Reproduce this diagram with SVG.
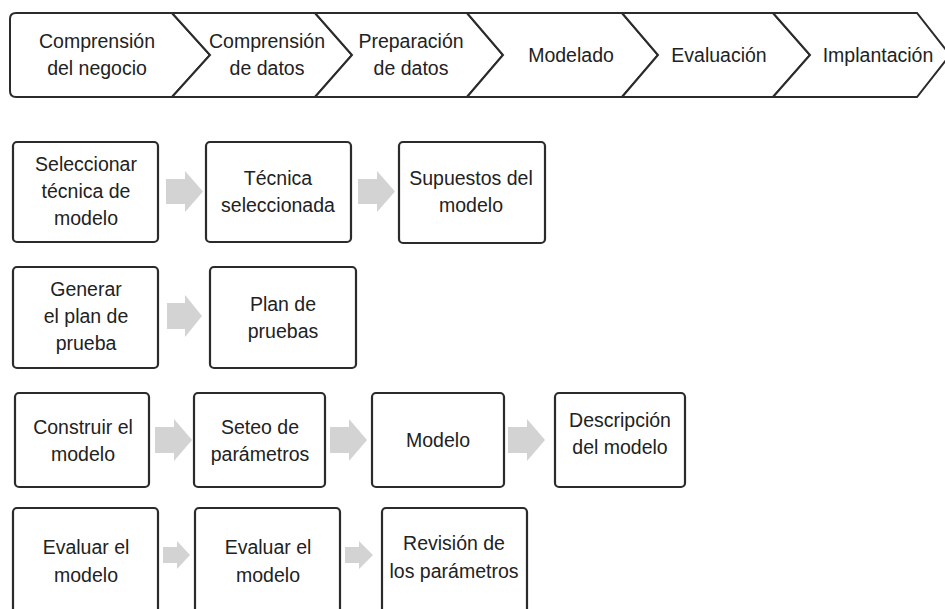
<svg xmlns="http://www.w3.org/2000/svg" width="945" height="609" viewBox="0 0 945 609">
<style>
.ph{fill:#fff;stroke:#2b2b2b;stroke-width:2;stroke-linejoin:miter}
.bx{fill:#fff;stroke:#2b2b2b;stroke-width:2.2}
.t{font-family:"Liberation Sans",Arial,sans-serif;font-size:19.5px;fill:#222;text-anchor:middle}
.ar{fill:#d3d3d3}
</style>
<rect width="945" height="609" fill="#fff"/>
<g id="banner">
<g id="phase1"><path class="ph" d="M172,13 L16,13 Q10,13 10,19 L10,91 Q10,97 16,97 L172,97 L210,55 Z"/><text class="t" x="97" y="48">Comprensión</text><text class="t" x="97" y="75">del negocio</text></g>
<g id="phase2"><path class="ph" d="M172,13 L315,13 L352,55 L315,97 L172,97 L210,55 Z"/><text class="t" x="267" y="48">Comprensión</text><text class="t" x="267" y="75">de datos</text></g>
<g id="phase3"><path class="ph" d="M315,13 L467,13 L503,55 L467,97 L315,97 L352,55 Z"/><text class="t" x="411" y="48">Preparación</text><text class="t" x="411" y="75">de datos</text></g>
<g id="phase4"><path class="ph" d="M467,13 L622,13 L658,55 L622,97 L467,97 L503,55 Z"/><text class="t" x="571" y="62">Modelado</text></g>
<g id="phase5"><path class="ph" d="M622,13 L773,13 L810,55 L773,97 L622,97 L658,55 Z"/><text class="t" x="719" y="62">Evaluación</text></g>
<g id="phase6"><path class="ph" d="M773,13 L917,13 L950,55 L917,97 L773,97 L810,55 Z"/><text class="t" x="878" y="62">Implantación</text></g>
</g>
<g id="connectors">
<path class="ar" d="M166,179 L185,179 L185,171 L203,191.5 L185,212 L185,204 L166,204 Z"/>
<path class="ar" d="M358,179 L377,179 L377,171 L395,191.5 L377,212 L377,204 L358,204 Z"/>
<path class="ar" d="M167,303 L185,303 L185,295 L202,316 L185,337 L185,329 L167,329 Z"/>
<path class="ar" d="M155,427 L174,427 L174,419 L192,440 L174,461 L174,453 L155,453 Z"/>
<path class="ar" d="M330,427 L349,427 L349,419 L367,440 L349,461 L349,453 L330,453 Z"/>
<path class="ar" d="M508,427 L527,427 L527,419 L545,440 L527,461 L527,453 L508,453 Z"/>
<path class="ar" d="M163,547 L177,547 L177,541 L190,555 L177,569 L177,563 L163,563 Z"/>
<path class="ar" d="M345,547 L359,547 L359,541 L373,555 L359,569 L359,563 L345,563 Z"/>
</g>
<g id="n1"><rect class="bx" x="13" y="142" width="145" height="100" rx="4"/><text class="t" x="86" y="171">Seleccionar</text><text class="t" x="86" y="198">técnica de</text><text class="t" x="86" y="225">modelo</text></g>
<g id="n2"><rect class="bx" x="206" y="142" width="145" height="100" rx="4"/><text class="t" x="278" y="185">Técnica</text><text class="t" x="278" y="212">seleccionada</text></g>
<g id="n3"><rect class="bx" x="399" y="142" width="146" height="101" rx="4"/><text class="t" x="471" y="185">Supuestos del</text><text class="t" x="471" y="212">modelo</text></g>
<g id="n4"><rect class="bx" x="13" y="267" width="145" height="101" rx="4"/><text class="t" x="86" y="296">Generar</text><text class="t" x="86" y="323">el plan de</text><text class="t" x="86" y="350">prueba</text></g>
<g id="n5"><rect class="bx" x="210" y="267" width="146" height="101" rx="4"/><text class="t" x="283" y="311">Plan de</text><text class="t" x="283" y="338">pruebas</text></g>
<g id="n6"><rect class="bx" x="15" y="393" width="134" height="94" rx="4"/><text class="t" x="83" y="434">Construir el</text><text class="t" x="83" y="461">modelo</text></g>
<g id="n7"><rect class="bx" x="194" y="393" width="131" height="94" rx="4"/><text class="t" x="260" y="434">Seteo de</text><text class="t" x="260" y="461">parámetros</text></g>
<g id="n8"><rect class="bx" x="372" y="393" width="132" height="94" rx="4"/><text class="t" x="438" y="447">Modelo</text></g>
<g id="n9"><rect class="bx" x="555" y="393" width="130" height="94" rx="4"/><text class="t" x="620" y="427">Descripción</text><text class="t" x="620" y="454">del modelo</text></g>
<g id="n10"><rect class="bx" x="13" y="508" width="145" height="106" rx="4"/><text class="t" x="86" y="554">Evaluar el</text><text class="t" x="86" y="582">modelo</text></g>
<g id="n11"><rect class="bx" x="195" y="508" width="145" height="106" rx="4"/><text class="t" x="268" y="554">Evaluar el</text><text class="t" x="268" y="582">modelo</text></g>
<g id="n12"><rect class="bx" x="382" y="508" width="145" height="106" rx="4"/><text class="t" x="454" y="550">Revisión de</text><text class="t" x="454" y="578">los parámetros</text></g>
</svg>
